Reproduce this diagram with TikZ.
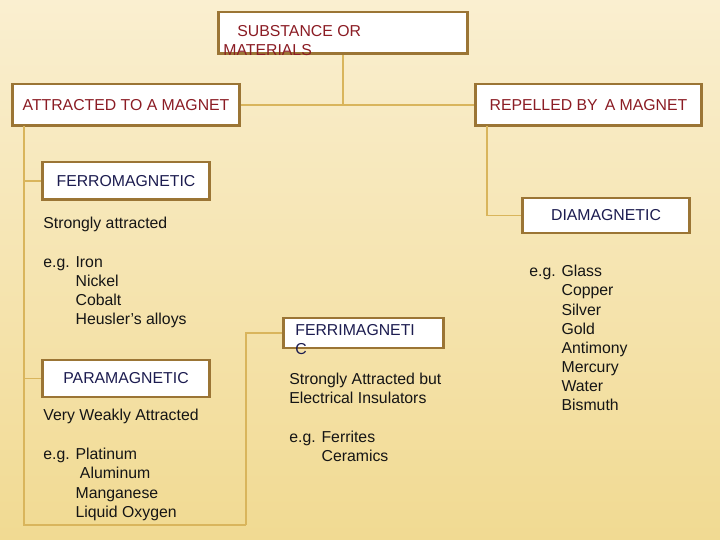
\documentclass[tikz,border=0pt]{standalone}
\usepackage{fontspec}
\setmainfont{Liberation Sans}
\definecolor{boxbrown}{HTML}{9B7535}
\definecolor{linegold}{HTML}{D9B55C}
\definecolor{headred}{HTML}{8B1C24}
\definecolor{catnavy}{HTML}{1C1C50}
\definecolor{bodyblack}{HTML}{151515}
\definecolor{bgtop}{HTML}{FAEFD0}
\definecolor{bgbottom}{HTML}{F1DA92}
\begin{document}
\begin{tikzpicture}[x=0.02cm,y=-0.02cm,
	box/.style={draw=boxbrown,line width=1.7pt,fill=white,inner sep=0pt,font=\fontsize{9}{10.9}\selectfont},
	link/.style={draw=linegold,line width=0.6pt},
	txt/.style={anchor=north west,inner sep=0pt,align=left,font=\fontsize{9}{10.9}\selectfont,text=bodyblack}]
	\shade[top color=bgtop,bottom color=bgbottom] (0,0) rectangle (720,540);
	\useasboundingbox (0,0) rectangle (720,540);
	\coordinate (ltrunk) at (24,126);
	\coordinate (lbot) at (24,525);
	\coordinate (fbot) at (246,525);
	\coordinate (rtrunk) at (487,126);
	\draw[link] (ltrunk) |- (24,181);
	\draw[link] (ltrunk) -- (lbot) -- (fbot);
	\node[box,minimum width=5cm,minimum height=0.84cm] (sub) at (343,33) {};
	\node[box,text=headred,minimum width=4.56cm,minimum height=0.84cm] (attr) at (126,105) {ATTRACTED TO A MAGNET};
	\node[box,text=headred,minimum width=4.54cm,minimum height=0.84cm] (rep) at (588.5,105) {REPELLED BY \,A MAGNET};
	\node[box,text=catnavy,minimum width=3.36cm,minimum height=0.76cm] (ferro) at (126,181) {FERROMAGNETIC};
	\node[box,text=catnavy,minimum width=3.36cm,minimum height=0.74cm] (para) at (126,378.5) {PARAMAGNETIC};
	\node[box,minimum width=3.22cm,minimum height=0.6cm] (ferri) at (363.5,333) {};
	\node[box,text=catnavy,minimum width=3.36cm,minimum height=0.7cm] (dia) at (606,215.5) {DIAMAGNETIC\hspace{14pt}};
	\draw[link] (sub.south) -- (sub.south |- attr.east);
	\draw[link] (attr.east) -- (rep.west);
	\draw[link] (ltrunk) |- (ferro.west);
	\draw[link] (ltrunk) |- (para.west);
	\draw[link] (fbot) |- (ferri.west);
	\draw[link] (rtrunk) |- (dia.west);
	\node[txt,text=headred] (subtext) at (223,25) {\hspace*{8pt}SUBSTANCE OR\\MATERIALS};
	\node[txt,text=catnavy] (ferritext) at (295,324) {FERRIMAGNETI\\C};
	\node[txt] (ferrodesc) at (43,217) {Strongly attracted};
	\node[txt] (ferroeg) at (43,256) {e.g. Iron\\\hphantom{e.g. }Nickel\\\hphantom{e.g. }Cobalt\\\hphantom{e.g. }Heusler's alloys};
	\node[txt] (paradesc) at (43,409) {Very Weakly Attracted};
	\node[txt] (paraeg) at (43,448) {e.g. Platinum\\\hphantom{e.g. }~Aluminum\\\hphantom{e.g. }Manganese\\\hphantom{e.g. }Liquid Oxygen};
	\node[txt] (ferridesc) at (289,373) {Strongly Attracted but\\Electrical Insulators};
	\node[txt] (ferrieg) at (289,431) {e.g. Ferrites\\\hphantom{e.g. }Ceramics};
	\node[txt] (diaeg) at (529,265) {e.g. Glass\\\hphantom{e.g. }Copper\\\hphantom{e.g. }Silver\\\hphantom{e.g. }Gold\\\hphantom{e.g. }Antimony\\\hphantom{e.g. }Mercury\\\hphantom{e.g. }Water\\\hphantom{e.g. }Bismuth};
\end{tikzpicture}
\end{document}
